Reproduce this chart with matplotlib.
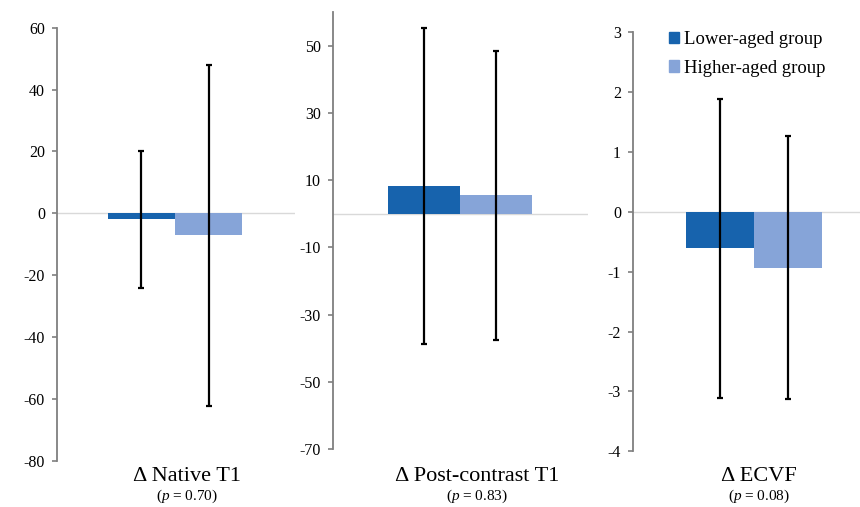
import matplotlib
matplotlib.use('Agg')
import matplotlib.pyplot as plt
from matplotlib.patches import Patch

plt.rcParams['font.family'] = ['Liberation Serif', 'DejaVu Serif']
plt.rcParams['axes.unicode_minus'] = False
plt.rcParams['mathtext.fontset'] = 'custom'
plt.rcParams['mathtext.it'] = 'Liberation Serif:italic'
plt.rcParams['mathtext.rm'] = 'Liberation Serif'

# data
categories = ['Δ Native T1', 'Δ Post-contrast T1', 'Δ ECVF']
p_values = ['0.70', '0.83', '0.08']
groups = ['Lower-aged group', 'Higher-aged group']
lower_mean = [-2.0, 8.3, -0.61]
lower_sd = [22.1, 47.0, 2.5]
higher_mean = [-7.1, 5.5, -0.93]
higher_sd = [55.2, 43.1, 2.19]
y_limits = [(-80, 60), (-70, 60), (-4, 3)]
y_ticks = [list(range(-80, 61, 20)), list(range(-70, 51, 20)), list(range(-4, 4))]

dark = '#1763AD'
light = '#86A4D8'
W, H = 860, 507

fig = plt.figure(figsize=(8.6, 5.07), dpi=100)

# panel boxes in pixels: left, right, top, bottom
boxes = [(57, 295, 27.7, 460.7), (333, 588, 12.3, 449), (633, 860, 32.3, 451.3)]
xlims = [(-1.76, 1.79), (-1.76, 1.78), (-1.77, 1.55)]
label_x = [187, 477, 759]

axes = []
for i, (l, r, t, b) in enumerate(boxes):
    ax = fig.add_axes([l / W, 1 - b / H, (r - l) / W, (b - t) / H])
    ax.axhline(0, color='#D9D9D9', lw=1, zorder=0)
    ax.bar(-0.5, lower_mean[i], width=1, color=dark, zorder=2)
    ax.bar(0.5, higher_mean[i], width=1, color=light, zorder=2)
    ax.errorbar([-0.5, 0.5], [lower_mean[i], higher_mean[i]],
                yerr=[lower_sd[i], higher_sd[i]], fmt='none',
                ecolor='black', elinewidth=1.6, capsize=2.5, capthick=1.6, zorder=3)
    ax.set_xlim(xlims[i])
    ax.set_ylim(y_limits[i])
    ax.set_yticks(y_ticks[i])
    ax.set_xticks([])
    for s in ['top', 'right', 'bottom']:
        ax.spines[s].set_visible(False)
    ax.spines['left'].set_color('#7F7F7F')
    ax.spines['left'].set_linewidth(1.3)
    ax.tick_params(axis='y', direction='out', length=3.6, width=1.2,
                   color='#7F7F7F', labelsize=11.5, pad=5)
    ax.patch.set_alpha(0)
    fig.text(label_x[i] / W, 1 - 481 / H, categories[i], fontsize=16,
             ha='center', va='baseline')
    fig.text(label_x[i] / W, 1 - 500 / H, '($\\mathit{p}$ = ' + p_values[i] + ')',
             fontsize=11, ha='center', va='baseline')
    axes.append(ax)

handles = [Patch(color=dark), Patch(color=light)]
fig.legend(handles, groups, loc='upper left', bbox_to_anchor=(669 / W, 1 - 31 / H),
           frameon=False, fontsize=13.5, handlelength=0.55, handleheight=0.55,
           handletextpad=0.25, labelspacing=0.62, borderpad=0, borderaxespad=0)

fig.savefig('out.png', dpi=100)
